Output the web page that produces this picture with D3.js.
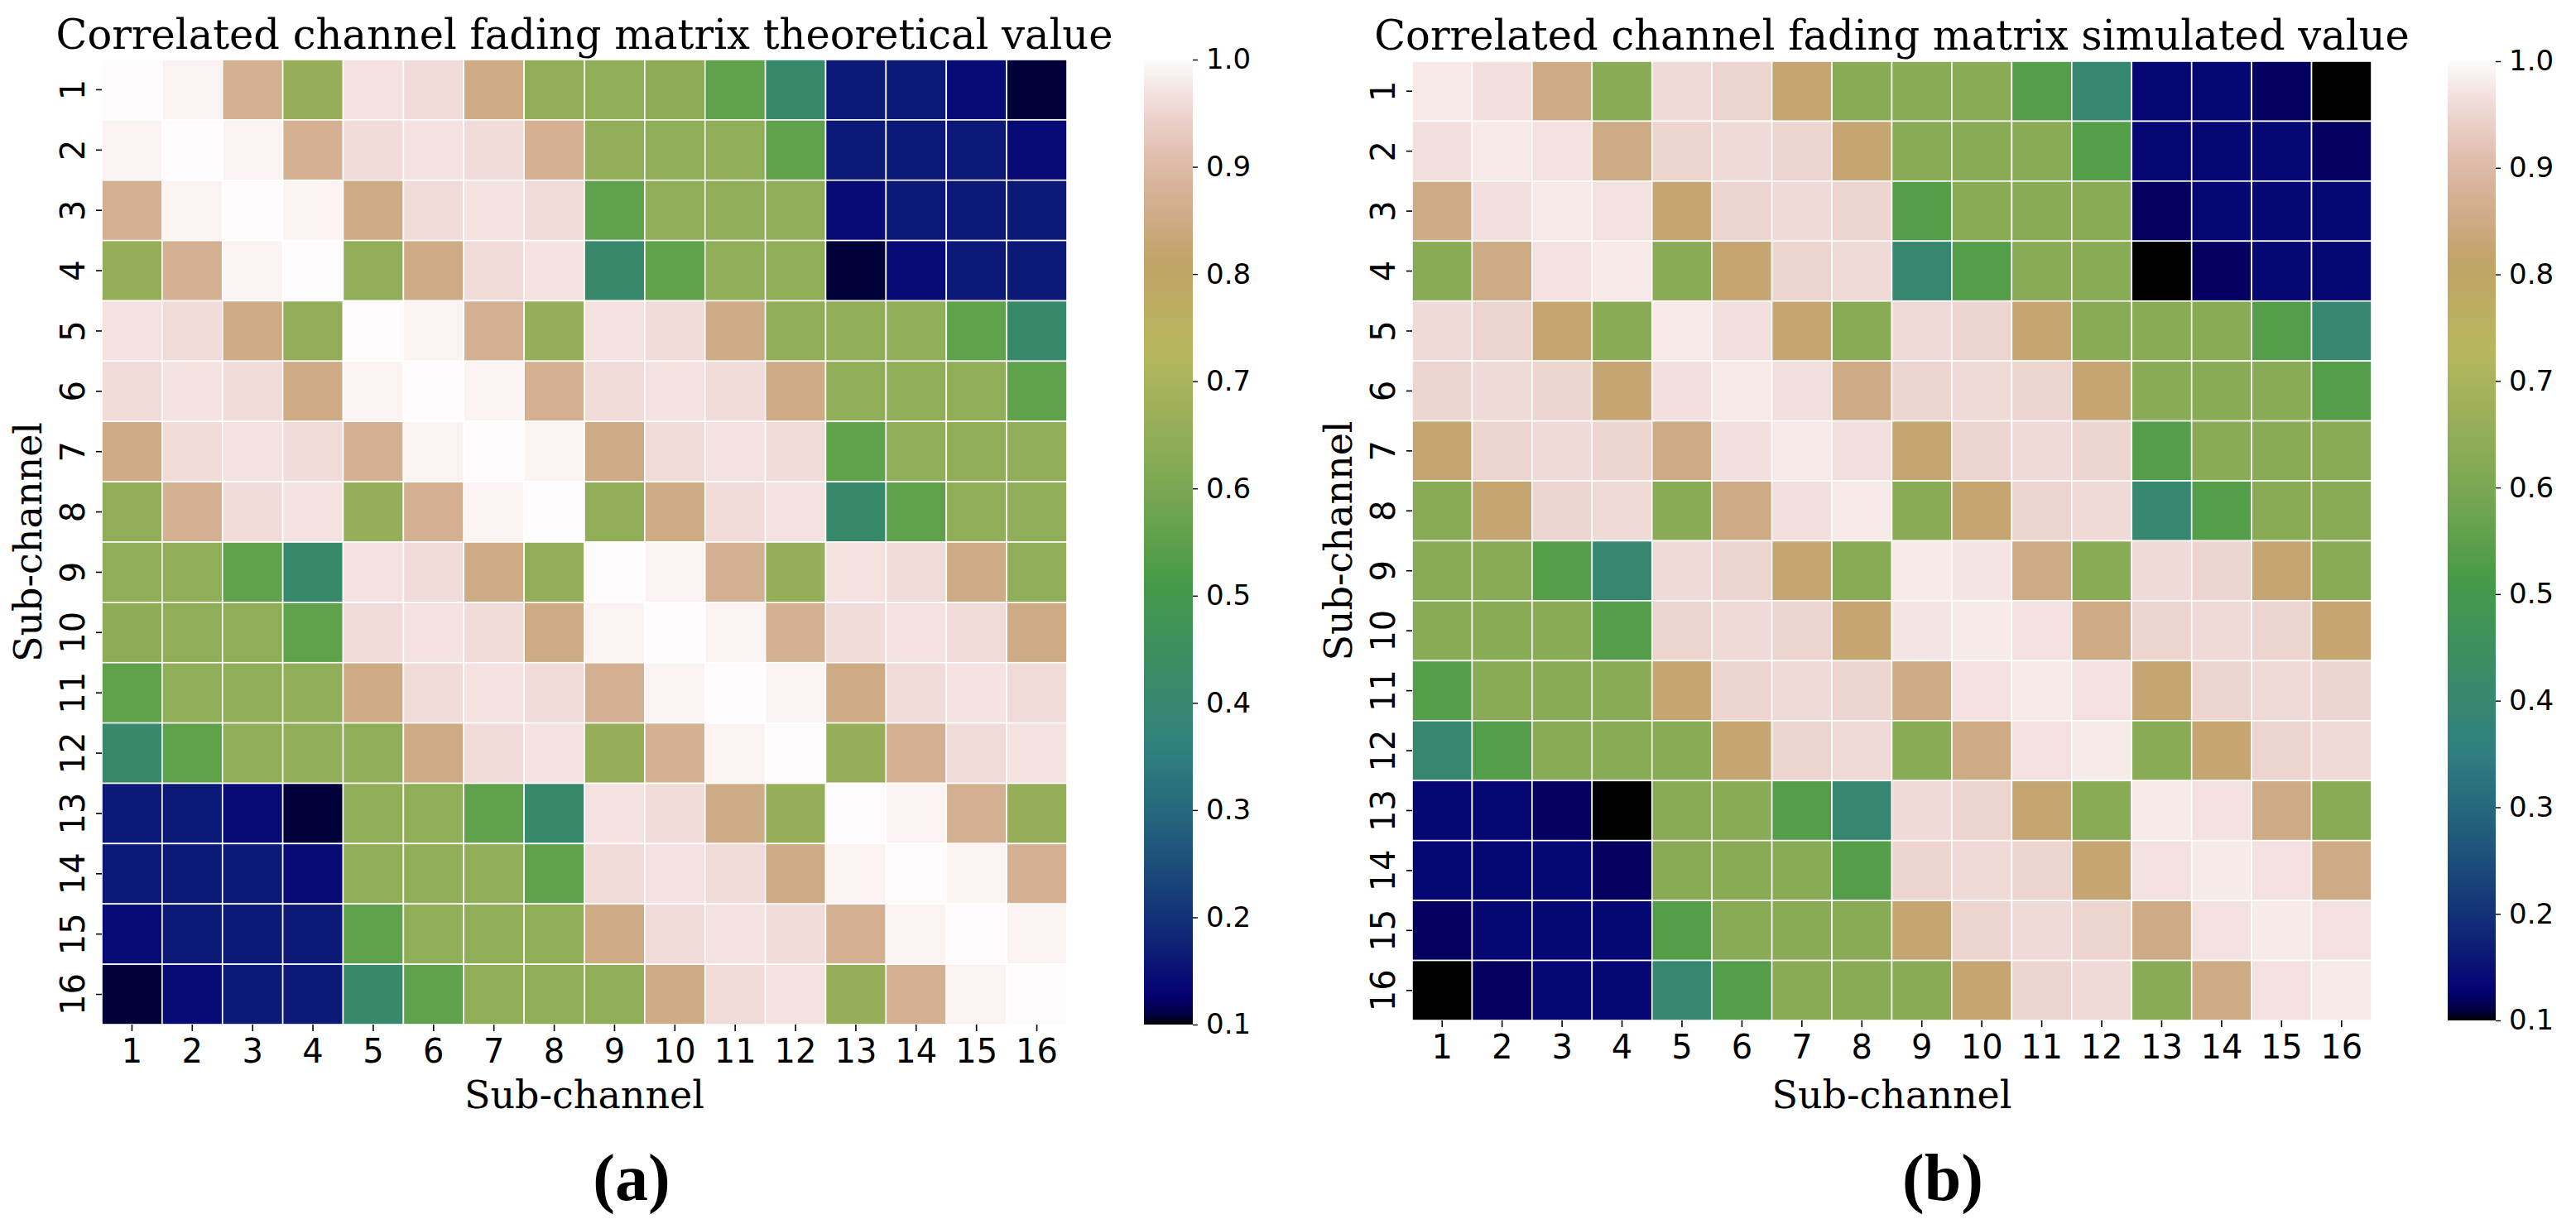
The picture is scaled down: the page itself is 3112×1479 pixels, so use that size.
<!DOCTYPE html>
<html>
<head>
<meta charset="utf-8">
<script src="https://cdn.jsdelivr.net/npm/d3@7/dist/d3.min.js"></script>
<style>
  body { margin: 0; background: #ffffff; }
</style>
</head>
<body>
<div id="plotRegi"></div>
<script>

// Tick labels of both axes
var subChannels = ["1", "2", "3", "4", "5", "6", "7", "8", "9", "10", "11", "12", "13", "14", "15", "16"]

// Colorbar ticks
var colorbarTicks = [0.1, 0.2, 0.3, 0.4, 0.5, 0.6, 0.7, 0.8, 0.9, 1.0]

var panelTitles = ["Correlated channel fading matrix theoretical value",
                   "Correlated channel fading matrix simulated value"]
var panelLetters = ["(a)", "(b)"]

// Theoretical correlation matrix
var theoreticalValues = [
    [1.00, 0.99, 0.87, 0.66, 0.97, 0.96, 0.85, 0.65, 0.645, 0.64, 0.555, 0.41, 0.163, 0.163, 0.14, 0.107],
    [0.99, 1.00, 0.99, 0.87, 0.96, 0.97, 0.96, 0.87, 0.65, 0.645, 0.645, 0.555, 0.163, 0.163, 0.163, 0.14],
    [0.87, 0.99, 1.00, 0.99, 0.85, 0.96, 0.97, 0.96, 0.555, 0.645, 0.645, 0.645, 0.14, 0.163, 0.163, 0.163],
    [0.66, 0.87, 0.99, 1.00, 0.65, 0.85, 0.96, 0.97, 0.41, 0.555, 0.645, 0.645, 0.107, 0.14, 0.163, 0.163],
    [0.97, 0.96, 0.85, 0.65, 1.00, 0.99, 0.87, 0.66, 0.97, 0.96, 0.85, 0.645, 0.645, 0.645, 0.555, 0.41],
    [0.96, 0.97, 0.96, 0.85, 0.99, 1.00, 0.99, 0.87, 0.96, 0.97, 0.96, 0.85, 0.645, 0.645, 0.645, 0.555],
    [0.85, 0.96, 0.97, 0.96, 0.87, 0.99, 1.00, 0.99, 0.85, 0.96, 0.97, 0.96, 0.555, 0.645, 0.645, 0.645],
    [0.65, 0.87, 0.96, 0.97, 0.66, 0.87, 0.99, 1.00, 0.65, 0.85, 0.96, 0.97, 0.41, 0.555, 0.645, 0.645],
    [0.645, 0.645, 0.555, 0.41, 0.97, 0.96, 0.85, 0.65, 1.00, 0.99, 0.87, 0.66, 0.97, 0.96, 0.85, 0.645],
    [0.64, 0.645, 0.645, 0.555, 0.96, 0.97, 0.96, 0.85, 0.99, 1.00, 0.99, 0.87, 0.96, 0.97, 0.96, 0.85],
    [0.555, 0.645, 0.645, 0.645, 0.85, 0.96, 0.97, 0.96, 0.87, 0.99, 1.00, 0.99, 0.85, 0.96, 0.97, 0.96],
    [0.41, 0.555, 0.645, 0.645, 0.645, 0.85, 0.96, 0.97, 0.66, 0.87, 0.99, 1.00, 0.66, 0.87, 0.96, 0.97],
    [0.163, 0.163, 0.14, 0.107, 0.645, 0.645, 0.555, 0.41, 0.97, 0.96, 0.85, 0.66, 1.00, 0.99, 0.87, 0.66],
    [0.163, 0.163, 0.163, 0.14, 0.645, 0.645, 0.645, 0.555, 0.96, 0.97, 0.96, 0.85, 0.99, 1.00, 0.99, 0.87],
    [0.14, 0.163, 0.163, 0.163, 0.555, 0.645, 0.645, 0.645, 0.85, 0.96, 0.97, 0.96, 0.87, 0.99, 1.00, 0.99],
    [0.107, 0.14, 0.163, 0.163, 0.41, 0.555, 0.645, 0.645, 0.645, 0.85, 0.96, 0.97, 0.66, 0.87, 0.99, 1.00]
]

// Simulated correlation matrix
var simulatedValues = [
    [0.978, 0.966, 0.85, 0.63, 0.958, 0.949, 0.823, 0.63, 0.63, 0.63, 0.538, 0.40, 0.135, 0.135, 0.12, 0.10],
    [0.966, 0.978, 0.969, 0.85, 0.949, 0.958, 0.949, 0.823, 0.63, 0.63, 0.63, 0.538, 0.135, 0.135, 0.135, 0.12],
    [0.85, 0.966, 0.978, 0.969, 0.823, 0.949, 0.958, 0.949, 0.538, 0.63, 0.63, 0.63, 0.12, 0.135, 0.135, 0.135],
    [0.63, 0.85, 0.969, 0.978, 0.63, 0.823, 0.949, 0.958, 0.40, 0.538, 0.63, 0.63, 0.10, 0.12, 0.135, 0.135],
    [0.958, 0.949, 0.823, 0.63, 0.978, 0.966, 0.823, 0.63, 0.958, 0.949, 0.823, 0.63, 0.63, 0.63, 0.538, 0.40],
    [0.949, 0.958, 0.949, 0.823, 0.966, 0.978, 0.966, 0.85, 0.949, 0.958, 0.949, 0.823, 0.63, 0.63, 0.63, 0.538],
    [0.823, 0.949, 0.958, 0.949, 0.85, 0.966, 0.978, 0.966, 0.823, 0.949, 0.958, 0.949, 0.538, 0.63, 0.63, 0.63],
    [0.63, 0.823, 0.949, 0.958, 0.63, 0.85, 0.966, 0.978, 0.63, 0.823, 0.949, 0.958, 0.40, 0.538, 0.63, 0.63],
    [0.63, 0.63, 0.538, 0.40, 0.958, 0.949, 0.823, 0.63, 0.978, 0.972, 0.85, 0.63, 0.958, 0.949, 0.823, 0.63],
    [0.63, 0.63, 0.63, 0.538, 0.949, 0.958, 0.949, 0.823, 0.972, 0.98, 0.969, 0.85, 0.949, 0.958, 0.949, 0.823],
    [0.538, 0.63, 0.63, 0.63, 0.823, 0.949, 0.958, 0.949, 0.85, 0.969, 0.98, 0.969, 0.823, 0.949, 0.958, 0.949],
    [0.40, 0.538, 0.63, 0.63, 0.63, 0.823, 0.949, 0.958, 0.63, 0.85, 0.969, 0.98, 0.63, 0.823, 0.949, 0.958],
    [0.135, 0.135, 0.12, 0.10, 0.63, 0.63, 0.538, 0.40, 0.958, 0.949, 0.823, 0.63, 0.98, 0.969, 0.85, 0.63],
    [0.135, 0.135, 0.135, 0.12, 0.63, 0.63, 0.63, 0.538, 0.949, 0.958, 0.949, 0.823, 0.969, 0.98, 0.969, 0.85],
    [0.12, 0.135, 0.135, 0.135, 0.538, 0.63, 0.63, 0.63, 0.823, 0.949, 0.958, 0.949, 0.85, 0.969, 0.98, 0.969],
    [0.10, 0.12, 0.135, 0.135, 0.40, 0.538, 0.63, 0.63, 0.63, 0.823, 0.949, 0.958, 0.63, 0.85, 0.969, 0.98]
]

// gist_earth colormap segments (position, level)
var earthRed = [[0, 0], [0.2824, 0.1882], [0.4588, 0.2714], [0.549, 0.4719], [0.698, 0.7176], [0.7882, 0.7553], [1, 0.9922]]
var earthGreen = [[0, 0], [0.0275, 0], [0.1098, 0.1893], [0.1647, 0.3035], [0.2078, 0.3841], [0.2824, 0.502],
                  [0.5216, 0.6397], [0.698, 0.7171], [0.7882, 0.6392], [0.8157, 0.6549], [0.8667, 0.6991],
                  [0.898, 0.743], [0.9412, 0.8275], [0.9569, 0.8635], [0.9647, 0.8816], [0.9961, 0.9733], [1, 0.9843]]
var earthBlue = [[0, 0], [0.0039, 0.1684], [0.0078, 0.2212], [0.0275, 0.4329], [0.0314, 0.4549], [0.2824, 0.5004],
                 [0.4667, 0.2748], [0.5451, 0.3205], [0.7843, 0.3961], [0.8941, 0.6651], [1, 0.9843]]

function channel(seg) {
    return d3.scaleLinear()
        .domain(seg.map(d => d[0]))
        .range(seg.map(d => d[1]))
        .clamp(true)
}

var red = channel(earthRed), green = channel(earthGreen), blue = channel(earthBlue)

// value -> 0..1 -> colour
var norm = d3.scaleLinear().domain([0.1, 1.0]).range([0, 1]).clamp(true)

function earthColor(v) {
    var t = norm(v)
    return d3.rgb(red(t) * 255, green(t) * 255, blue(t) * 255).formatHex()
}

var svg = d3
    .select("#plotRegi")
    .append("svg")
    .attr("width", 3112)
    .attr("height", 1479)
    .style("background", "#ffffff")

var defs = svg.append("defs")

// Draw one heatmap panel with its colorbar
function heatmap(dat, box, idx) {
    var scale_x = d3.scaleBand().domain(subChannels).range([0, box.size])
    var scale_y = d3.scaleBand().domain(subChannels).range([0, box.size])

    var g = svg
        .append("g")
        .attr("transform", "translate(" + box.left + "," + box.top + ")")

    // Cells
    var cells = []
    dat.forEach((row, i) => row.forEach((v, j) => cells.push({ r: subChannels[i], c: subChannels[j], v: v })))

    g.append("g")
        .selectAll("rect")
        .data(cells)
        .enter()
        .append("rect")
        .attr("x", d => scale_x(d.c))
        .attr("y", d => scale_y(d.r))
        .attr("width", scale_x.bandwidth())
        .attr("height", scale_y.bandwidth())
        .style("fill", d => earthColor(d.v))
        .style("stroke", "#ffffff")
        .style("stroke-width", 1.6)

    // X axis
    var ax = g.append("g")
        .attr("transform", "translate(0," + box.size + ")")
        .call(d3.axisBottom(scale_x).tickSize(8).tickPadding(10))
    ax.select(".domain").remove()
    ax.selectAll("line").style("stroke", "#000").style("stroke-width", 1.6)
    ax.selectAll("text")
        .attr("font-family", "DejaVu Sans")
        .attr("font-size", 40)
        .attr("fill", "#000")

    // Y axis, labels turned upright
    var ay = g.append("g")
        .call(d3.axisLeft(scale_y).tickSize(7))
    ay.select(".domain").remove()
    ay.selectAll("line").style("stroke", "#000").style("stroke-width", 1.6)
    ay.selectAll("text")
        .attr("x", null)
        .attr("dy", null)
        .attr("text-anchor", "middle")
        .attr("transform", "translate(-21,0) rotate(-90)")
        .attr("font-family", "DejaVu Sans")
        .attr("font-size", 40)
        .attr("fill", "#000")

    // Titles and axis labels
    g.append("text")
        .attr("x", box.size / 2)
        .attr("y", box.titleY - box.top)
        .attr("text-anchor", "middle")
        .attr("font-family", "DejaVu Serif")
        .attr("font-size", 49.5)
        .text(panelTitles[idx])

    g.append("text")
        .attr("x", box.size / 2)
        .attr("y", 1339 - box.top)
        .attr("text-anchor", "middle")
        .attr("font-family", "DejaVu Serif")
        .attr("font-size", 46)
        .text("Sub-channel")

    g.append("text")
        .attr("transform", "translate(-73," + box.size / 2 + ") rotate(-90)")
        .attr("text-anchor", "middle")
        .attr("font-family", "DejaVu Serif")
        .attr("font-size", 46)
        .text("Sub-channel")

    svg.append("text")
        .attr("x", box.letterX)
        .attr("y", 1450)
        .attr("text-anchor", "middle")
        .attr("font-family", "Liberation Serif")
        .attr("font-weight", "bold")
        .attr("font-size", 80)
        .text(panelLetters[idx])

    // Colorbar
    var scale_c = d3.scaleLinear().domain([0.1, 1.0]).range([box.size, 0])
    var grad = defs.append("linearGradient")
        .attr("id", "cbar" + idx)
        .attr("x1", 0).attr("y1", 1).attr("x2", 0).attr("y2", 0)
    d3.range(0, 1.0001, 0.01).forEach(s => {
        grad.append("stop")
            .attr("offset", s)
            .attr("stop-color", earthColor(scale_c.invert(box.size * (1 - s))))
    })

    var cb = svg.append("g")
        .attr("transform", "translate(" + box.cbarLeft + "," + box.top + ")")
    cb.append("rect")
        .attr("width", box.cbarWidth)
        .attr("height", box.size)
        .style("fill", "url(#cbar" + idx + ")")

    var ac = cb.append("g")
        .attr("transform", "translate(" + box.cbarWidth + ",0)")
        .call(d3.axisRight(scale_c).tickValues(colorbarTicks).tickFormat(d3.format(".1f")).tickSize(6).tickPadding(10))
    ac.select(".domain").remove()
    ac.selectAll("line").style("stroke", "#000").style("stroke-width", 1.4)
    ac.selectAll("text")
        .attr("font-family", "DejaVu Sans")
        .attr("font-size", 34)
        .attr("fill", "#000")
}

// Main
heatmap(theoreticalValues, { left: 123, top: 72, size: 1166, titleY: 59, cbarLeft: 1382, cbarWidth: 59, letterX: 763 }, 0)
heatmap(simulatedValues, { left: 1706, top: 74, size: 1159, titleY: 60, cbarLeft: 2957, cbarWidth: 58, letterX: 2347 }, 1)

</script>
</body>
</html>
